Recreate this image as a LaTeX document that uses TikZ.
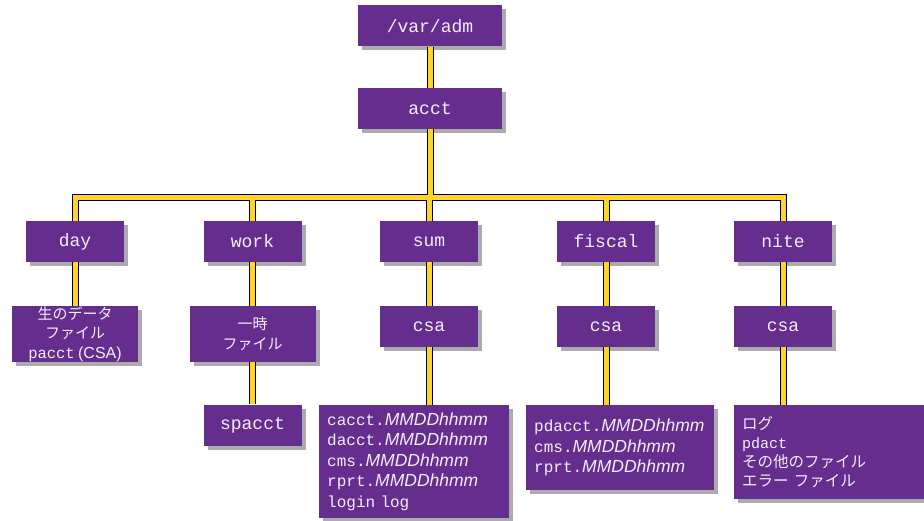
\documentclass[tikz,border=0pt]{standalone}
\usepackage{fontspec}
\setmainfont{Liberation Sans}
\newfontfamily\monofont{Liberation Mono}
\newfontfamily\jpfont{Noto Sans CJK JP}
\usetikzlibrary{shadows}

\definecolor{admpurple}{RGB}{100,45,142}
\definecolor{pipeyellow}{RGB}{255,212,42}
\definecolor{labelwhite}{RGB}{244,239,250}

\newcommand{\stampit}{{\rmfamily\itshape\fontsize{17.5}{20.5}\selectfont MMDDhhmm}}

\begin{document}
\begin{tikzpicture}
    [x=1pt, y=-1pt,
    every node/.style={
        fill=admpurple, text=labelwhite, inner sep=0pt,
        drop shadow={shadow xshift=4pt, shadow yshift=-4pt, fill=black!33, opacity=1}},
    dirbox/.style={minimum width=98pt, minimum height=41pt,
        font=\monofont\fontsize{18}{20}\selectfont},
    topbox/.style={dirbox, minimum width=144pt},
    notebox/.style={minimum width=126pt, minimum height=56pt, align=center,
        font=\jpfont\fontsize{15}{19.5}\selectfont},
    listbox/.style={anchor=north west, align=left, inner xsep=8pt,
        font=\monofont\fontsize{16}{20.5}\selectfont},
    pipe/.style={line width=#1}
    ]
    \useasboundingbox (0,0) rectangle (924,521);

    \node [topbox] (varadm) at (430,26) {/var/adm};
    \node [topbox] (acct) at (430,108.5) {acct};

    \node [dirbox] (day) at (75,241.5) {day};
    \node [dirbox] (work) at (252.5,241.5) {work};
    \node [dirbox] (sum) at (429,241.5) {sum};
    \node [dirbox] (fiscal) at (606,241.5) {fiscal};
    \node [dirbox] (nite) at (783,241.5) {nite};

    \node [notebox] (rawdata) at (75,334)
        {生のデータ\\ファイル\\{\monofont\fontsize{15.5}{19.5}\selectfont pacct} {\rmfamily\fontsize{16}{19.5}\selectfont (CSA)}};
    \node [notebox] (tempfile) at (252.5,334) {一時\\ファイル};
    \node [dirbox] (sumcsa) at (429,326.5) {csa};
    \node [dirbox] (fiscalcsa) at (606,326.5) {csa};
    \node [dirbox] (nitecsa) at (783,326.5) {csa};

    \node [dirbox] (spacct) at (252.5,425) {spacct};
    \node [listbox, text width=174pt, minimum height=113pt] (sumlist) at (319,405)
        {cacct.\stampit\\dacct.\stampit\\cms.\stampit\\rprt.\stampit\\login log};
    \node [listbox, text width=172pt, minimum height=85pt] (fiscallist) at (526,405)
        {pdacct.\stampit\\cms.\stampit\\rprt.\stampit};
    \node [listbox, text width=184pt, minimum height=94pt,
        font=\jpfont\fontsize{15.5}{19}\selectfont] (nitelist) at (734,405)
        {ログ\\{\monofont\fontsize{15}{19}\selectfont pdact}\\その他のファイル\\エラー ファイル};

    \coordinate (bus) at (430,198);

    % outline first, then the yellow core
    \foreach \w/\c in {7pt/black, 5pt/pipeyellow}
    {
        \draw [pipe=\w, draw=\c] (varadm.south) -- (acct.north);
        \draw [pipe=\w, draw=\c] (day.north) |- (bus) -| (nite.north);
        \draw [pipe=\w, draw=\c] (acct.south) -- (acct.south |- bus);
        \draw [pipe=\w, draw=\c] (work.north) -- (work.north |- bus);
        \draw [pipe=\w, draw=\c] (sum.north) -- (sum.north |- bus);
        \draw [pipe=\w, draw=\c] (fiscal.north) -- (fiscal.north |- bus);
        \draw [pipe=\w, draw=\c] (day.south) -- (rawdata.north);
        \draw [pipe=\w, draw=\c] (work.south) -- (tempfile.north);
        \draw [pipe=\w, draw=\c] (sum.south) -- (sumcsa.north);
        \draw [pipe=\w, draw=\c] (fiscal.south) -- (fiscalcsa.north);
        \draw [pipe=\w, draw=\c] (nite.south) -- (nitecsa.north);
        \draw [pipe=\w, draw=\c] (tempfile.south) -- (spacct.north);
        \draw [pipe=\w, draw=\c] (sumcsa.south) -- (sumcsa.south |- sumlist.north);
        \draw [pipe=\w, draw=\c] (fiscalcsa.south) -- (fiscalcsa.south |- fiscallist.north);
        \draw [pipe=\w, draw=\c] (nitecsa.south) -- (nitecsa.south |- nitelist.north);
    }
\end{tikzpicture}
\end{document}
